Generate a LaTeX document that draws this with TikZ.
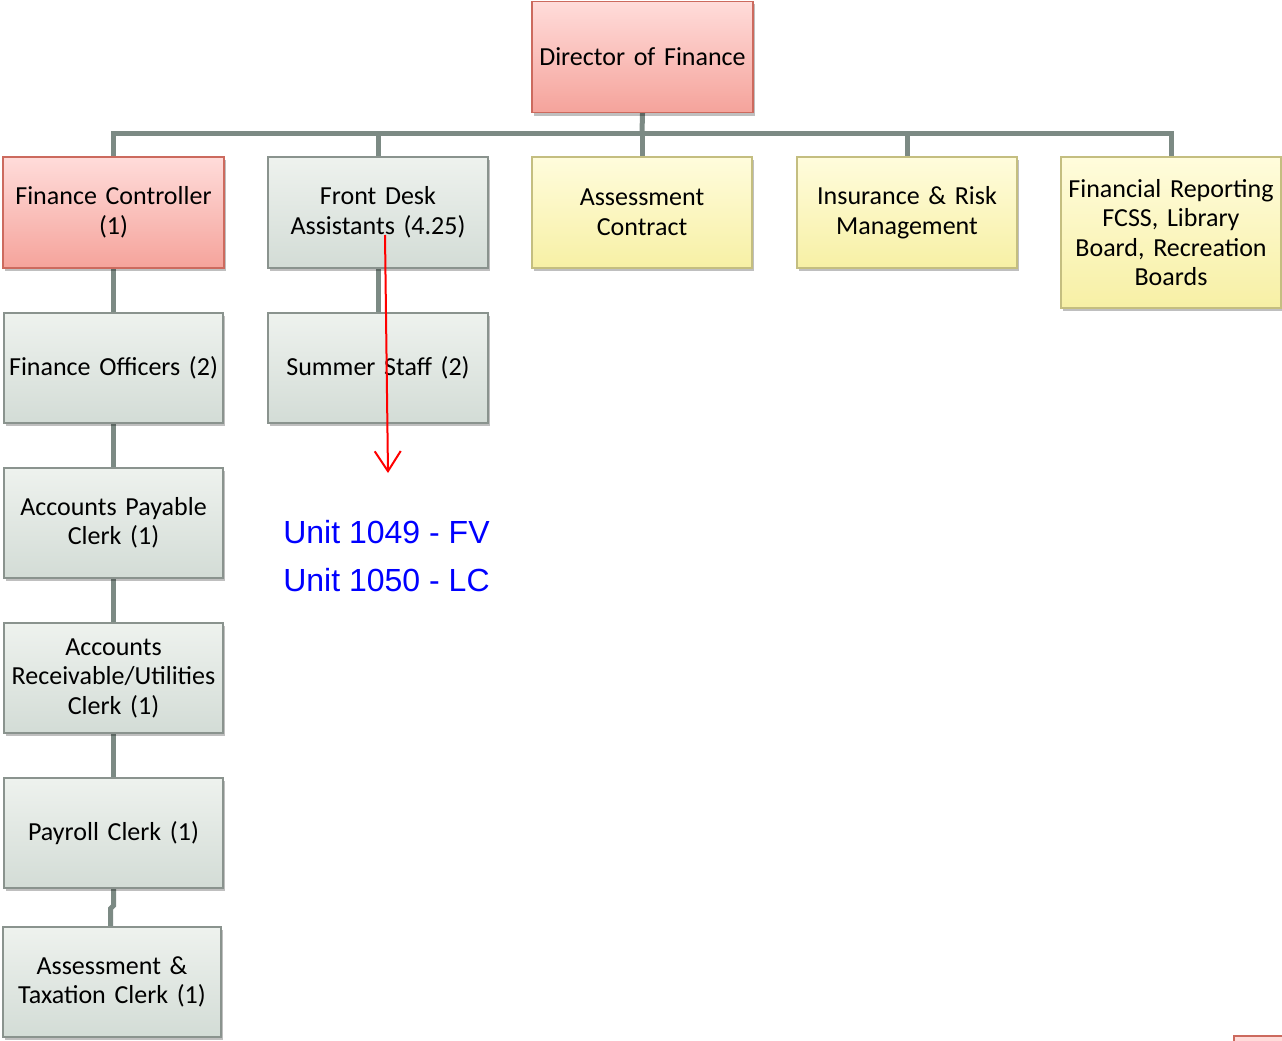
\documentclass[tikz,border=0pt]{standalone}
\usepackage{fontspec}
\setmainfont[WordSpace=0.75]{Carlito}
\newfontfamily\arialf{Liberation Sans}
\usetikzlibrary{arrows.meta,shadows}
\pgfdeclarelayer{bg}
\pgfsetlayers{bg,main}
\definecolor{conn}{HTML}{7C8A84}
\definecolor{gtop}{HTML}{EEF2EE}
\definecolor{gbot}{HTML}{D3DCD6}
\definecolor{gbrd}{HTML}{8A938E}
\definecolor{ptop}{HTML}{FFDCDA}
\definecolor{pbot}{HTML}{F5A39B}
\definecolor{pbrd}{HTML}{CC6A5E}
\definecolor{ytop}{HTML}{FFFCDC}
\definecolor{ybot}{HTML}{F7F0A5}
\definecolor{ybrd}{HTML}{C4BE80}
\tikzset{
  box/.style={draw, line width=1.3pt, inner sep=0pt, align=center,
    font=\fontsize{26}{29.5}\selectfont,
    drop shadow={shadow xshift=2pt, shadow yshift=-3pt, opacity=0.25, fill=black}},
  graybox/.style={box, draw=gbrd, top color=gtop, bottom color=gbot},
  pinkbox/.style={box, draw=pbrd, top color=ptop, bottom color=pbot},
  yelbox/.style={box, draw=ybrd, top color=ytop, bottom color=ybot},
  link/.style={draw=conn, line width=5pt},
  unit/.style={font=\arialf\fontsize{32}{36}\selectfont, text=blue, inner sep=0pt}
}
\begin{document}
\begin{tikzpicture}[x=1pt,y=-1pt]
\useasboundingbox (0,0) rectangle (1282,1041);
\coordinate (bar) at (642,133);
\node[pinkbox, minimum width=221pt, minimum height=111pt, text width=219pt] (dir) at (642.5,57) {Director of Finance};
\node[pinkbox, minimum width=221pt, minimum height=111pt, text width=219pt] (fc) at (113.5,212.5) {Finance Controller\\(1)};
\node[graybox, minimum width=220pt, minimum height=111pt, text width=218pt] (fd) at (378,212.5) {Front Desk\\Assistants (4.25)};
\node[yelbox, minimum width=220pt, minimum height=111pt, text width=218pt] (ac) at (642,212.5) {Assessment\\Contract};
\node[yelbox, minimum width=220pt, minimum height=111pt, text width=218pt] (ins) at (907,212.5) {Insurance \& Risk\\Management};
\node[yelbox, minimum width=220pt, minimum height=151pt, text width=218pt] (fr) at (1171,232.5) {Financial Reporting\\FCSS, Library\\Board, Recreation\\Boards};
\node[graybox, minimum width=219pt, minimum height=110pt, text width=217pt] (fo) at (113.5,368) {Finance Officers (2)};
\node[graybox, minimum width=220pt, minimum height=110pt, text width=218pt] (ss) at (378,368) {Summer Staff (2)};
\node[graybox, minimum width=219pt, minimum height=110pt, text width=217pt] (ap) at (113.5,523) {Accounts Payable\\Clerk (1)};
\node[graybox, minimum width=219pt, minimum height=110pt, text width=217pt] (ar) at (113.5,678) {Accounts\\Receivable/Utilities\\Clerk (1)};
\node[graybox, minimum width=219pt, minimum height=110pt, text width=217pt] (pc) at (113.5,833) {Payroll Clerk (1)};
\node[graybox, minimum width=218pt, minimum height=110pt, text width=216pt] (at) at (112,982) {Assessment \&\\Taxation Clerk (1)};
\begin{pgfonlayer}{bg}
\draw[link] (dir.south) -- (bar);
\draw[link] (fc.north) |- (bar) -| (fr.north);
\draw[link] (fd.north) -- (fd.north |- bar);
\draw[link] (ac.north) -- (ac.north |- bar);
\draw[link] (ins.north) -- (ins.north |- bar);
\draw[link] (fc.south) -- (fo.north);
\draw[link] (fd.south) -- (ss.north);
\draw[link] (fo.south) -- (ap.north);
\draw[link] (ap.south) -- (ar.north);
\draw[link] (ar.south) -- (pc.north);
\draw[link] (pc.south) -- ++(0,17) -- ++(-3,3) |- (at.north);
\end{pgfonlayer}
\coordinate (ra) at (385,235);
\coordinate (rb) at (388,473);
\draw[red, line width=2pt, -{Straight Barb[length=20pt, width=26pt, line width=2pt]}] (ra) -- (rb);
\node[unit] (u1) at (386.5,532) {Unit 1049 - FV};
\node[unit] (u2) at (386.5,580) {Unit 1050 - LC};
\draw[pbrd, line width=1.5pt, fill=ptop] (1234,1036) rectangle (1290,1050);
\end{tikzpicture}
\end{document}
